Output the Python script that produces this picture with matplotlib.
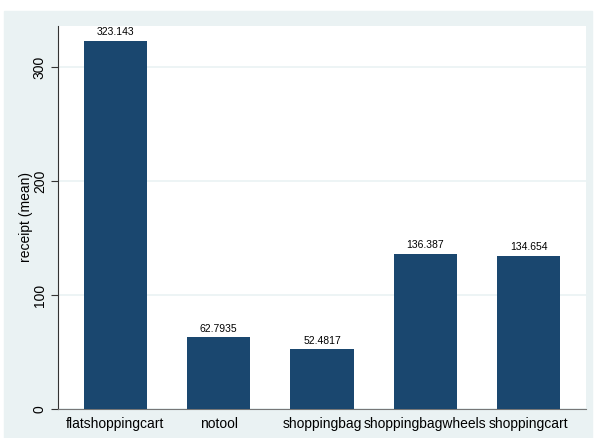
import matplotlib.pyplot as plt

categories = ["flatshoppingcart", "notool", "shoppingbag", "shoppingbagwheels", "shoppingcart"]
receipt_mean = [323.143, 62.7935, 52.4817, 136.387, 134.654]
value_labels = ["323.143", "62.7935", "52.4817", "136.387", "134.654"]
yticks = [0, 100, 200, 300]

plt.rcParams['font.family'] = ['Liberation Sans', 'DejaVu Sans']

BG = "#eaf2f3"
BAR = "#1a476f"

fig = plt.figure(figsize=(5.94, 4.38), dpi=100)
# outer light-blue graph region
fig.patches.append(plt.Rectangle((4 / 594, 0), 588 / 594, 1 - 11 / 438,
                                 transform=fig.transFigure, color=BG, zorder=-10))
ax = fig.add_axes([58 / 594, (438 - 409) / 438, 528 / 594, 383 / 438])
ax.set_facecolor("white")

x = range(len(categories))
ax.bar(x, receipt_mean, width=0.61, color=BAR, zorder=3)
for xi, v, lab in zip(x, receipt_mean, value_labels):
    ax.text(xi, v + 3, lab, ha="center", va="bottom", fontsize=7.5, zorder=4)

ax.set_xlim(-0.555, len(categories) - 1 + 0.555)
ax.set_ylim(0, 336)
ax.set_yticks(yticks)
ax.set_yticklabels([str(t) for t in yticks], rotation=90, va="center", fontsize=10)
ax.set_xticks(list(x))
ax.set_xticklabels(categories, fontsize=10)
ax.tick_params(axis="x", length=0, pad=6)
ax.tick_params(axis="y", length=5, color="#333333", pad=3)
ax.grid(axis="y", color=BG, linewidth=1.2, zorder=1)

for s in ["top", "right"]:
    ax.spines[s].set_visible(False)
ax.spines["left"].set_color("#333333")
ax.spines["bottom"].set_color("#777777")
ax.set_ylabel("receipt (mean)", fontsize=10)
ax.yaxis.set_label_coords(-0.047, 0.5)

fig.savefig("out.png", dpi=100)
